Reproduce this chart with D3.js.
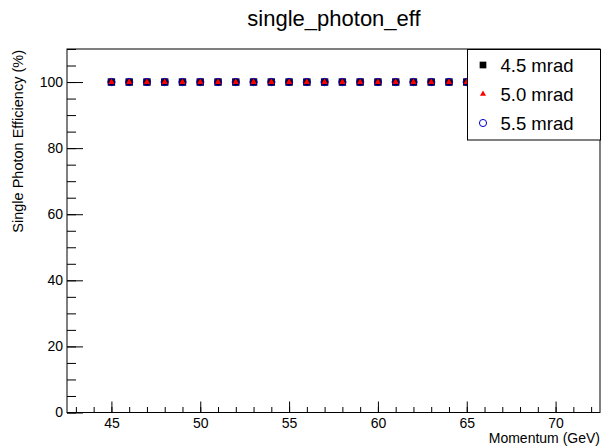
<!DOCTYPE html>
<html>
<head>
<meta charset="utf-8">
<script src="https://cdn.jsdelivr.net/npm/d3@7"></script>
<style>
  body { margin: 0; background: #fff; }
  svg { display: block; font-family: "Liberation Sans", Arial, sans-serif; }
</style>
</head>
<body>
<script>
var width = 602;
var height = 447;

// data
var momentum = [45, 46, 47, 48, 49, 50, 51, 52, 53, 54, 55, 56, 57, 58, 59, 60, 61, 62, 63, 64, 65, 66, 67, 68, 69, 70];
var eff45 = [100, 100, 100, 100, 100, 100, 100, 100, 100, 100, 100, 100, 100, 100, 100, 100, 100, 100, 100, 100, 100, 100, 100, 100, 100, 100];
var eff50 = [100, 100, 100, 100, 100, 100, 100, 100, 100, 100, 100, 100, 100, 100, 100, 100, 100, 100, 100, 100, 100, 100, 100, 100, 100, 100];
var eff55 = [100, 100, 100, 100, 100, 100, 100, 100, 100, 100, 100, 100, 100, 100, 100, 100, 100, 100, 100, 100, 100, 100, 100, 100, 100, 100];
var seriesNames = ["4.5 mrad", "5.0 mrad", "5.5 mrad"];
var xMajor = [45, 50, 55, 60, 65, 70];
var yMajor = [0, 20, 40, 60, 80, 100];

// frame edges (don't use "top", it's window.top)
var frameL = 67, frameR = 600, frameT = 49, frameB = 412.5;

var x = d3.scaleLinear().domain([42.5, 72.5]).range([frameL, frameR]);
var y = d3.scaleLinear().domain([0, 110]).range([frameB, frameT]);

var svg = d3.select("body").append("svg")
  .attr("width", width)
  .attr("height", height);

// title
svg.append("text")
  .attr("x", 334)
  .attr("y", 26)
  .attr("text-anchor", "middle")
  .attr("font-size", 22)
  .text("single_photon_eff");

// frame
svg.append("rect")
  .attr("x", frameL)
  .attr("y", frameT)
  .attr("width", frameR - frameL)
  .attr("height", frameB - frameT)
  .attr("fill", "none")
  .attr("stroke", "black")
  .attr("stroke-width", 1);

// y axis minor ticks
var yMinor = d3.range(0, 111, 5);
svg.append("g")
  .attr("transform", "translate(" + frameL + ",0)")
  .call(d3.axisLeft(y).tickValues(yMinor).tickSize(-9).tickFormat(""))
  .call(function (g) { g.select(".domain").remove(); });

// y axis major
svg.append("g")
  .attr("transform", "translate(" + frameL + ",0)")
  .call(d3.axisLeft(y).tickValues(yMajor).tickSize(-16).tickPadding(4))
  .call(function (g) {
    g.select(".domain").remove();
    g.selectAll("text").attr("font-size", 14).attr("fill", "black")
      .style("font-family", "Liberation Sans, Arial, sans-serif");
  });

// x axis minor ticks
var xMinor = d3.range(43, 73, 1);
svg.append("g")
  .attr("transform", "translate(0," + frameB + ")")
  .call(d3.axisBottom(x).tickValues(xMinor).tickSize(-5.5).tickFormat(""))
  .call(function (g) { g.select(".domain").remove(); });

// x axis major
svg.append("g")
  .attr("transform", "translate(0," + frameB + ")")
  .call(d3.axisBottom(x).tickValues(xMajor).tickSize(-11).tickPadding(5.5))
  .call(function (g) {
    g.select(".domain").remove();
    g.selectAll("text").attr("font-size", 14).attr("fill", "black")
      .style("font-family", "Liberation Sans, Arial, sans-serif");
  });

// axis titles
svg.append("text")
  .attr("text-anchor", "end")
  .attr("transform", "translate(23,50) rotate(-90)")
  .attr("font-size", 14.5)
  .text("Single Photon Efficiency (%)");

svg.append("text")
  .attr("x", 600)
  .attr("y", 443)
  .attr("text-anchor", "end")
  .attr("font-size", 14)
  .text("Momentum (GeV)");

// markers
var square = d3.symbol().type(d3.symbolSquare).size(55);
var triangle = d3.symbol().type(d3.symbolTriangle).size(18);
var circle = d3.symbol().type(d3.symbolCircle).size(42);

svg.append("g").selectAll("path")
  .data(eff45)
  .enter()
  .append("path")
  .attr("d", square)
  .attr("transform", function (d, i) { return "translate(" + x(momentum[i]) + "," + y(d) + ")"; })
  .attr("fill", "black");

svg.append("g").selectAll("path")
  .data(eff50)
  .enter()
  .append("path")
  .attr("d", triangle)
  .attr("transform", function (d, i) { return "translate(" + x(momentum[i]) + "," + y(d) + ")"; })
  .attr("fill", "#ff0000");

svg.append("g").selectAll("path")
  .data(eff55)
  .enter()
  .append("path")
  .attr("d", circle)
  .attr("transform", function (d, i) { return "translate(" + x(momentum[i]) + "," + y(d) + ")"; })
  .attr("fill", "none")
  .attr("stroke", "#0000cc")
  .attr("stroke-width", 1);

// legend
var legend = svg.append("g");
legend.append("rect")
  .attr("x", 467.5)
  .attr("y", 49.5)
  .attr("width", 133)
  .attr("height", 90.5)
  .attr("fill", "white")
  .attr("stroke", "black")
  .attr("stroke-width", 1);

var rowY = [65, 94, 123];
var legendMarks = [
  { sym: d3.symbol().type(d3.symbolSquare).size(45), fill: "black", stroke: "none" },
  { sym: d3.symbol().type(d3.symbolTriangle).size(16), fill: "#ff0000", stroke: "none" },
  { sym: d3.symbol().type(d3.symbolCircle).size(40), fill: "none", stroke: "#0000cc" }
];

legendMarks.forEach(function (m, i) {
  legend.append("path")
    .attr("d", m.sym)
    .attr("transform", "translate(483," + rowY[i] + ")")
    .attr("fill", m.fill)
    .attr("stroke", m.stroke);
  legend.append("text")
    .attr("x", 500.5)
    .attr("y", rowY[i] + 7)
    .attr("font-size", 18.5)
    .text(seriesNames[i]);
});
</script>
</body>
</html>
